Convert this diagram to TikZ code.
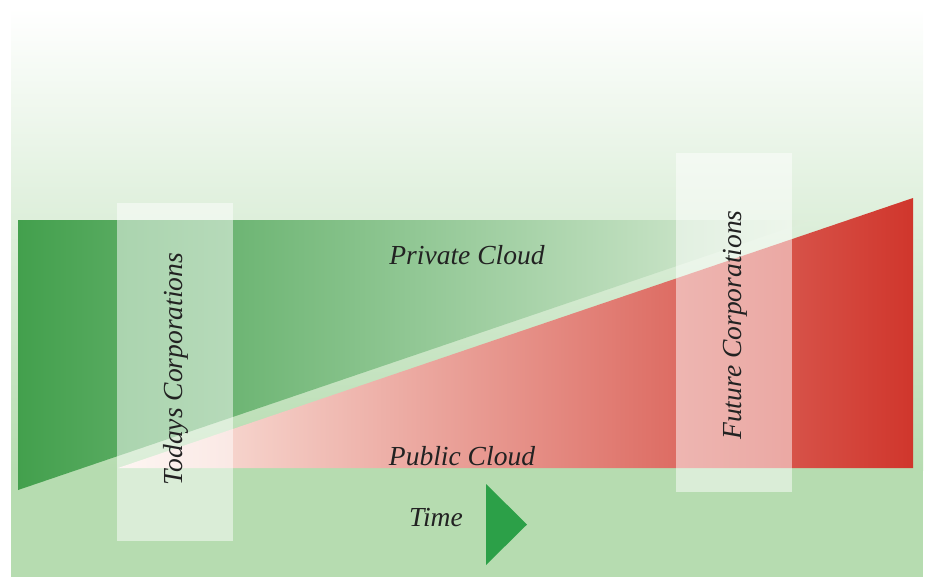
\documentclass[tikz,border=0pt]{standalone}
\usepackage{fontspec}
\setmainfont{Liberation Serif}
\usetikzlibrary{positioning}
\definecolor{bggreen}{HTML}{B6DCB0}
\definecolor{bgmid}{HTML}{D5EAD0}
\definecolor{privdark}{HTML}{43A04D}
\definecolor{privmid}{HTML}{90C28A}
\definecolor{privlight}{HTML}{E0EFDC}
\definecolor{publight}{HTML}{FCEDE6}
\definecolor{pubmid}{HTML}{EA9C7C}
\definecolor{pubdark}{HTML}{D0362C}
\definecolor{timegreen}{HTML}{2CA048}
\definecolor{txtgray}{HTML}{222222}

\begin{document}
\begin{tikzpicture}[x=0.03cm,y=-0.03cm
  ,lbl/.style={font=\fontsize{23.5}{27}\selectfont\itshape,text=txtgray}
  ,corp/.style={fill=white,fill opacity=0.5,minimum width=3.48cm,minimum height=10.14cm,inner sep=0pt}]
  \tikzstyle{every node}=[]

  \useasboundingbox (0,0) rectangle (928,577);

  % background
  \fill[top color=white,middle color=bgmid,bottom color=bggreen] (11,8) rectangle (923,470);
  \fill[bggreen] (11,470) rectangle (923,577);

  \coordinate (p1) at (18,220);
  \coordinate (p2) at (812,220);
  \coordinate (p3) at (18,490);
  \coordinate (q1) at (118,468);
  \coordinate (q2) at (913,198);
  \coordinate (q3) at (913,468);

  % private / public cloud
  \path[left color=privdark,middle color=privmid,right color=privlight] (p1) -- (p2) -- (p3) -- cycle;
  \path[left color=publight,middle color=pubmid,right color=pubdark] (q1) -- (q2) -- (q3) -- cycle;

  \node[lbl] (priv) at (467,255) {Private Cloud};
  \node[lbl] (pub) at (462,456) {Public Cloud};

  % corporations
  \node[corp] (today) at (175,372) {};
  \node[corp] (future) at (734,322.5) {};
  \node[lbl,rotate=90] (todaylbl) at (176,369) {Todays Corporations};
  \node[lbl,rotate=90] (futurelbl) at (735,325) {Future Corporations};

  % time
  \coordinate (t1) at (486,484);
  \coordinate (t2) at (527,524.5);
  \coordinate (t3) at (486,565);
  \fill[timegreen] (t1) -- (t2) -- (t3) -- cycle;
  \node[lbl] (time) at (436,518) {Time};

\end{tikzpicture}
\end{document}
